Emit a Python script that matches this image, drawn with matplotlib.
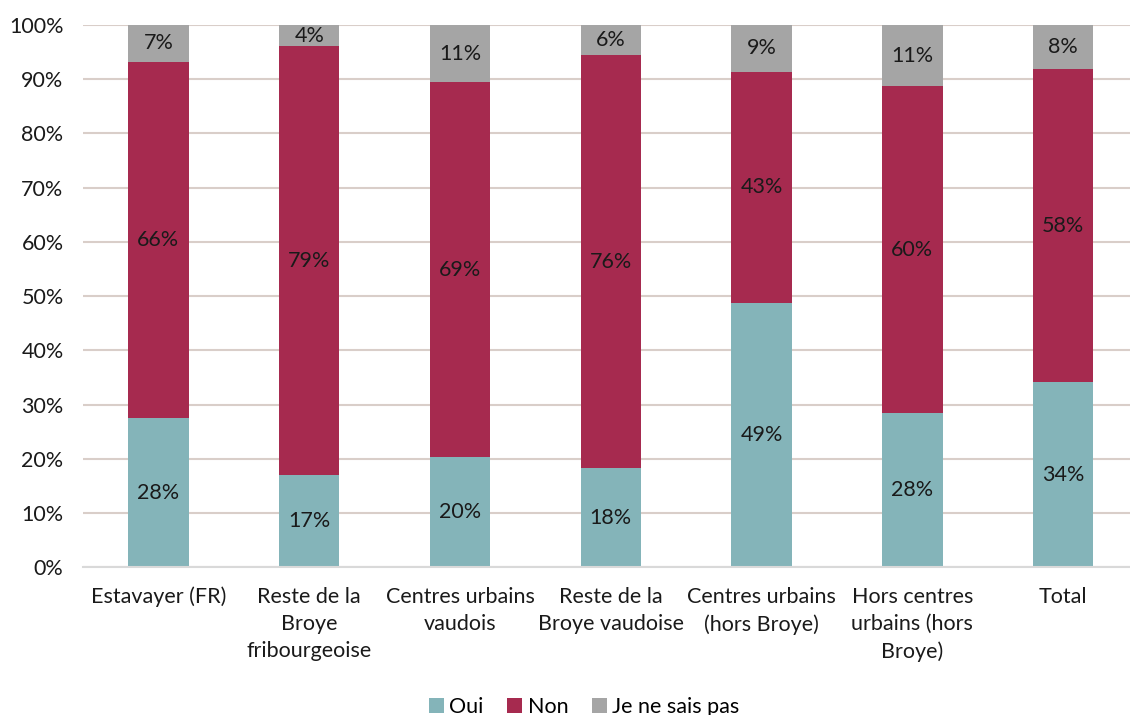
import matplotlib
matplotlib.use("Agg")
import matplotlib.pyplot as plt
import numpy as np

categories = ["Estavayer (FR)", "Reste de la\nBroye\nfribourgeoise", "Centres urbains\nvaudois",
              "Reste de la\nBroye vaudoise", "Centres urbains\n(hors Broye)",
              "Hors centres\nurbains (hors\nBroye)", "Total"]
oui = [27.5, 17.0, 20.3, 18.3, 48.8, 28.5, 34.2]
non = [65.7, 79.1, 69.1, 76.1, 42.6, 60.2, 57.6]
nsp = [6.8, 3.9, 10.6, 5.6, 8.6, 11.3, 8.2]
series_names = ["Oui", "Non", "Je ne sais pas"]
colors = ["#84B4B9", "#A62A4F", "#A5A5A5"]
yticks = list(range(0, 101, 10))

plt.rcParams['font.family'] = ['Lato', 'DejaVu Sans']
fs = 15.5

fig = plt.figure(figsize=(11.3, 7.15), dpi=100)
ax = fig.add_axes([83/1130, (715-567.3)/715, (1130-83)/1130, (567.3-25)/715])

x = np.arange(len(categories))
bottom = np.zeros(len(categories))
for name, vals, c in zip(series_names, [oui, non, nsp], colors):
    vals = np.array(vals)
    ax.bar(x, vals, 0.4, bottom=bottom, color=c, label=name, zorder=3)
    for xi, b, v in zip(x, bottom, vals):
        ax.text(xi, b + v/2, f"{v:.0f}%", ha='center', va='center', fontsize=fs, color='#1a1a1a', zorder=4)
    bottom += vals

ax.set_ylim(0, 100)
ax.set_xlim(-0.5, 6.5 - 8.6/150.8)
ax.set_yticks(yticks)
ax.set_yticklabels([f"{t}%" for t in yticks], fontsize=fs, color='#1a1a1a')
ax.set_xticks(x)
ax.set_xticklabels(categories, fontsize=fs, color='#1a1a1a', linespacing=1.45)
ax.tick_params(axis='both', length=0)
ax.tick_params(axis='x', pad=14)
ax.tick_params(axis='y', pad=14)
ax.yaxis.grid(True, color='#D9CEC9', linewidth=1.5, zorder=0)
for s in ['top', 'right', 'left']:
    ax.spines[s].set_visible(False)
ax.spines['bottom'].set_color('#D9D9D9')
ax.spines['bottom'].set_linewidth(1.5)
ax.spines['bottom'].set_zorder(5)

fig.legend(loc='lower center', bbox_to_anchor=(0.517, -0.03), ncol=3, frameon=False,
           fontsize=fs, handlelength=0.7, handleheight=0.7, handletextpad=0.25, columnspacing=1.1)

fig.savefig("out.png", dpi=100)
